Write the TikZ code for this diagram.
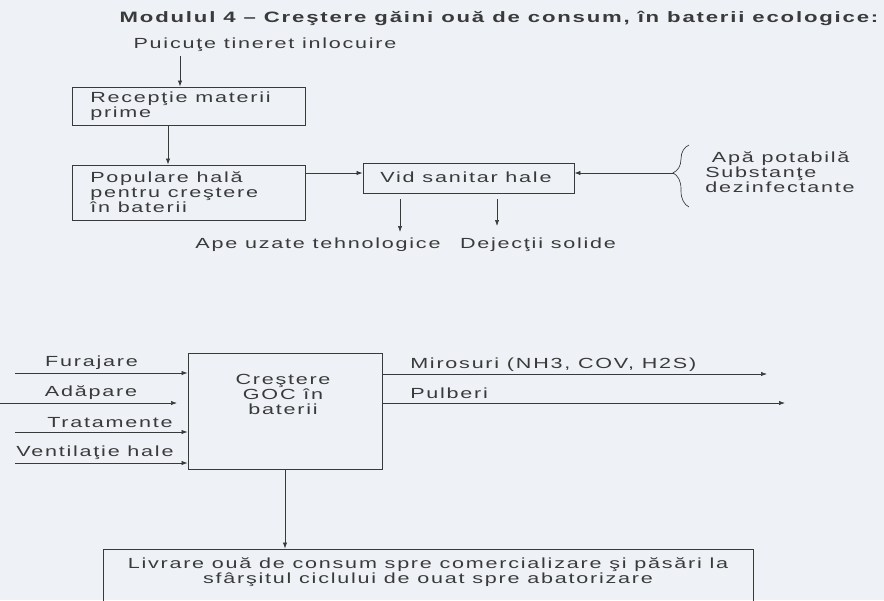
\documentclass[tikz,border=0pt]{standalone}
\usepackage{fontspec}
\setmainfont{Liberation Sans}[FakeStretch=1.47,LetterSpace=12]
\usetikzlibrary{arrows.meta,fit,decorations.pathreplacing}
\definecolor{bg}{HTML}{EEF2F7}
\definecolor{ink}{HTML}{3A3A3A}
\begin{document}
\begin{tikzpicture}[x=0.75pt,y=-0.75pt,
  every node/.style={font=\fontsize{11}{11.25}\selectfont, text=ink, inner sep=0pt},
  box/.style={draw=ink, line width=0.6pt, inner sep=0pt},
  arr/.style={draw=ink, line width=0.5pt, -{Latex[length=4.5pt,width=3.2pt]}},
  titlefont/.style={font=\fontsize{11.3}{12}\selectfont\bfseries}]
\fill[bg] (0,0) rectangle (884,600);
\useasboundingbox (0,0) rectangle (884,600);

% title
\node[titlefont] (title) at (499,18) {Modulul 4 – Creştere găini ouă de consum, în baterii ecologice:};

% upper part
\node (puic) at (265,45) {Puicuţe tineret inlocuire};
\node[box, fit={(72,87)(305,125)}] (rec) {};
\node[anchor=north west, align=left] (rect) at (90,92) {Recepţie materii\\prime};
\node[box, fit={(72,165)(305,220)}] (pop) {};
\node[anchor=north west, align=left] (popt) at (90,171) {Populare hală\\pentru creştere\\în baterii};
\node[box, fit={(363,163)(574,193)}] (vid) {};
\node (vidt) at (466,177) {Vid sanitar hale};

\coordinate (a1) at (180,0);
\coordinate (a2) at (168,0);
\coordinate (a3) at (0,173);
\draw[arr] (puic.south -| a1) ++(0,4) -- (rec.north -| a1);
\draw[arr] (rec.south -| a2) -- (pop.north -| a2);
\draw[arr] (pop.east |- a3) -- (vid.west |- a3);

% brace and inputs
\draw[ink, line width=0.5pt, decorate, decoration={brace, amplitude=12pt, aspect=0.55}] (689,207) -- (689,145);
\coordinate (brtip) at (674,173);
\draw[arr] (brtip) -- (vid.east |- brtip);
\node[anchor=north west, align=left, font=\fontsize{11}{10.2}\selectfont] (brt) at (705,151) {\hspace{5pt}Apă potabilă\\Substanţe\\dezinfectante};

% vid outputs
\coordinate (d1) at (400,199);
\coordinate (d2) at (497,199);
\coordinate (e1) at (400,232);
\coordinate (e2) at (497,226);
\draw[arr] (d1) -- (e1);
\draw[arr] (d2) -- (e2);
\node (ape) at (318,245) {Ape uzate tehnologice};
\node (dej) at (538,245) {Dejecţii solide};

% lower part
\node[box, fit={(188,353)(382,469)}] (goc) {};
\node[align=center] (goct) at (283,394) {Creştere\\GOC în\\baterii};

\coordinate (s1) at (15,373);
\coordinate (s2) at (0,403);
\coordinate (s2e) at (177,403);
\coordinate (s3) at (15,432);
\coordinate (s4) at (15,463);
\draw[arr] (s1) -- (goc.west |- s1);
\draw[arr] (s2) -- (s2e);
\draw[arr] (s3) -- (goc.west |- s3);
\draw[arr] (s4) -- (goc.west |- s4);
\node (fur) at (91.5,363) {Furajare};
\node (ada) at (91,393) {Adăpare};
\node (tra) at (110,423) {Tratamente};
\node (ven) at (95,453) {Ventilaţie hale};

\coordinate (o1) at (767,374);
\coordinate (o2) at (785,403);
\draw[arr] (goc.east |- o1) -- (o1);
\draw[arr] (goc.east |- o2) -- (o2);
\node[anchor=west] (mir) at (410,365) {Mirosuri (NH3, COV, H2S)};
\node[anchor=west] (pul) at (410,393) {Pulberi};

\node[box, fit={(103,549)(753,630)}] (liv) {};
\node[align=center, anchor=north] (livt) at (428,557) {Livrare ouă de consum spre comercializare şi păsări la\\sfârşitul ciclului de ouat spre abatorizare};
\coordinate (a4) at (285,0);
\draw[arr] (goc.south -| a4) -- (liv.north -| a4);
\end{tikzpicture}
\end{document}
